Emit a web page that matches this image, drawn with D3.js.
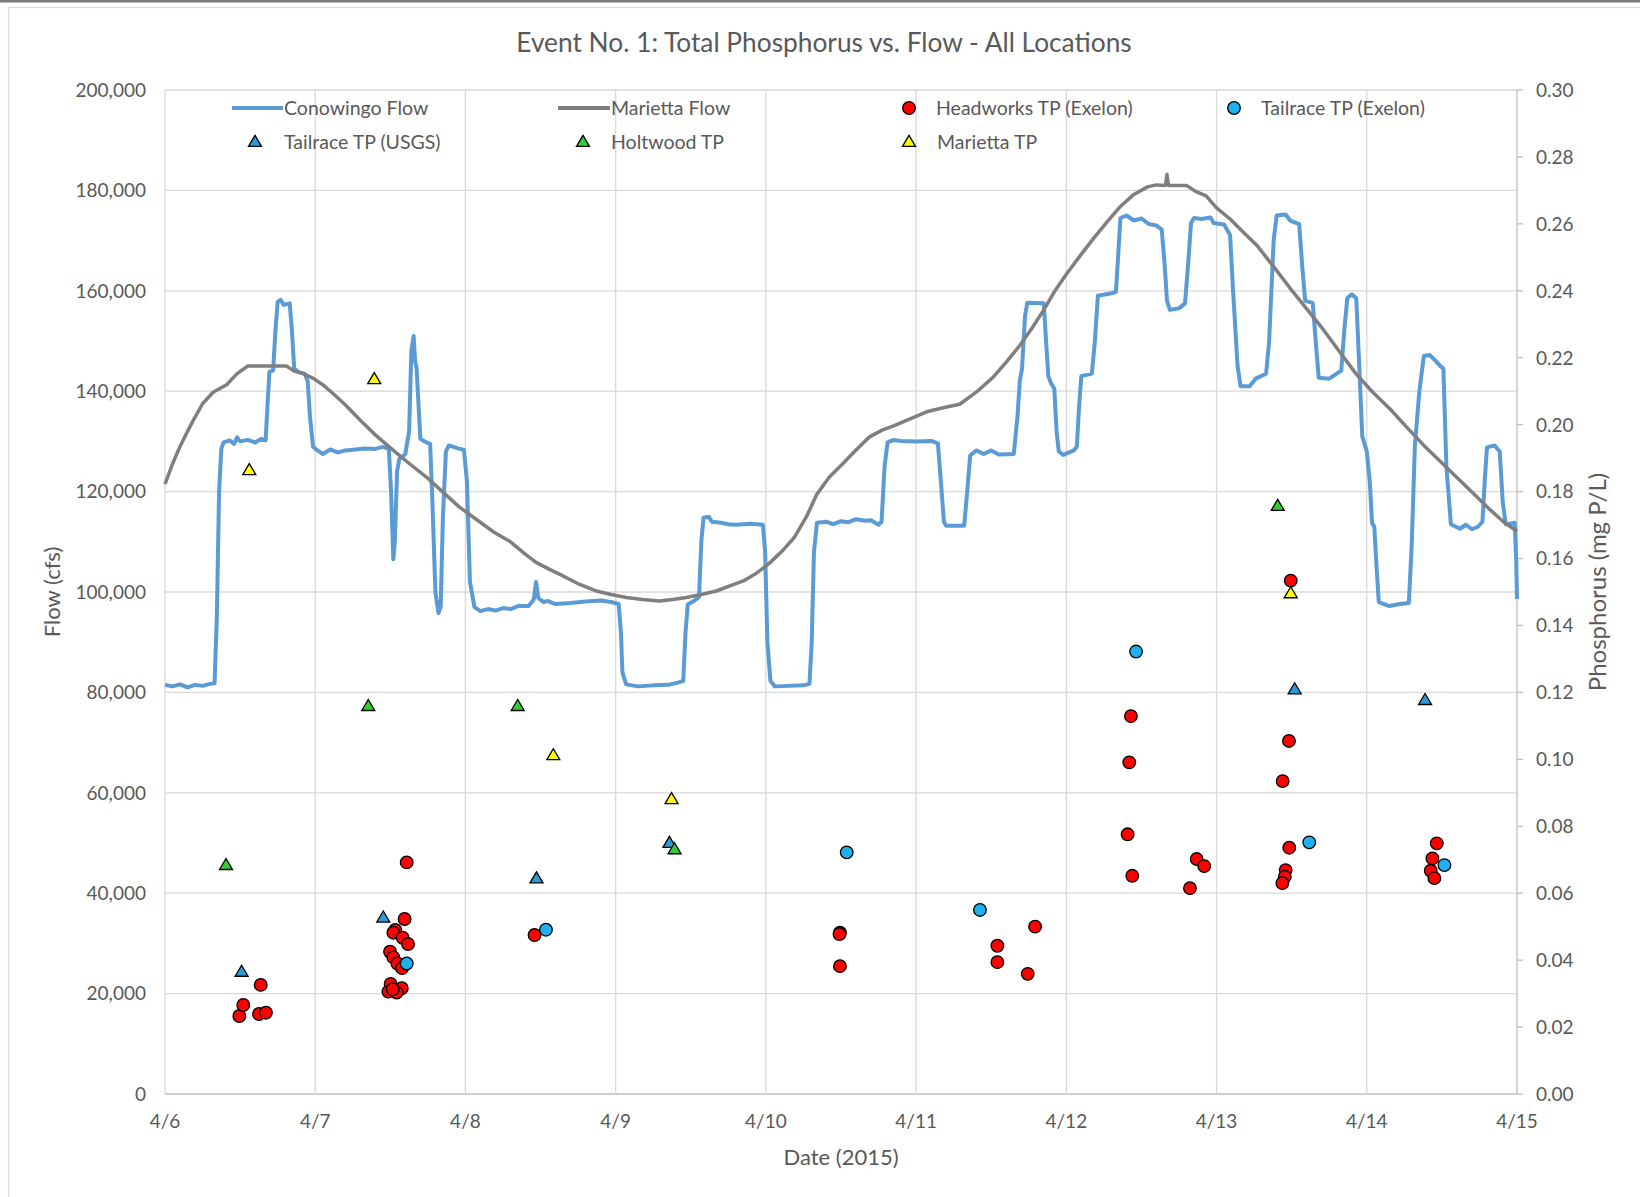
<!DOCTYPE html>
<html>
<head>
<meta charset="utf-8">
<script src="https://cdn.jsdelivr.net/npm/d3@7"></script>
<style>
  html, body { margin: 0; padding: 0; background: #fff; }
  svg { display: block; }
  text { font-family: Lato, "Open Sans", sans-serif; fill: #595959; }
</style>
</head>
<body>
<svg id="chart" width="1640" height="1197"></svg>
<script>
// ---------------- DATA ----------------
const chartTitle = "Event No. 1: Total Phosphorus vs. Flow - All Locations";
const xTickLabels = ["4/6","4/7","4/8","4/9","4/10","4/11","4/12","4/13","4/14","4/15"]; // day 0..9
const flowTicks = [0,20000,40000,60000,80000,100000,120000,140000,160000,180000,200000];
const phosTicks = [0,0.02,0.04,0.06,0.08,0.10,0.12,0.14,0.16,0.18,0.20,0.22,0.24,0.26,0.28,0.30];

// time = days since 4/6 00:00, flow in thousand cfs
const conowingoFlow = [
[0.00,81.5],[0.05,81.2],[0.10,81.6],[0.15,81.0],[0.20,81.5],[0.25,81.3],[0.30,81.7],[0.33,81.8],[0.345,95],[0.36,120],[0.375,128.5],[0.39,129.8],[0.43,130.2],[0.46,129.5],[0.48,130.8],[0.50,130],[0.55,130.3],[0.60,129.8],[0.64,130.5],[0.67,130.2],[0.68,136],[0.695,143.8],[0.72,144.2],[0.735,152],[0.75,157.8],[0.77,158.2],[0.79,157.2],[0.83,157.5],[0.845,152],[0.86,144.5],[0.89,143.8],[0.93,143.5],[0.95,142],[0.965,135],[0.985,129],[1.01,128.3],[1.05,127.5],[1.10,128.4],[1.15,127.8],[1.20,128.2],[1.27,128.4],[1.33,128.6],[1.40,128.5],[1.45,128.9],[1.49,128.5],[1.505,120],[1.52,106.5],[1.53,110],[1.545,124],[1.56,126.5],[1.60,127.5],[1.625,132],[1.64,148],[1.655,151],[1.665,146],[1.675,144.5],[1.69,136],[1.70,130.5],[1.74,129.8],[1.765,129.5],[1.78,118],[1.80,100],[1.82,95.8],[1.835,97],[1.85,115],[1.87,128],[1.89,129.2],[1.95,128.6],[1.99,128.3],[2.01,122],[2.03,102],[2.06,97],[2.10,96.2],[2.15,96.6],[2.20,96.3],[2.25,96.8],[2.30,96.6],[2.35,97.2],[2.42,97.2],[2.455,98.5],[2.47,102],[2.485,98.8],[2.52,98],[2.55,98.2],[2.60,97.6],[2.70,97.8],[2.80,98.1],[2.90,98.3],[2.97,98.0],[3.02,97.6],[3.035,92],[3.045,84],[3.07,81.6],[3.15,81.2],[3.25,81.4],[3.35,81.5],[3.42,82],[3.45,82.3],[3.465,92],[3.48,97.5],[3.52,98.2],[3.555,99],[3.57,110],[3.585,114.8],[3.62,115],[3.64,114],[3.70,113.8],[3.75,113.5],[3.80,113.4],[3.90,113.6],[3.98,113.4],[3.995,108],[4.01,90],[4.03,82.3],[4.06,81.2],[4.15,81.3],[4.25,81.4],[4.29,81.7],[4.305,90],[4.32,108],[4.34,113.8],[4.40,114],[4.45,113.5],[4.50,114.1],[4.55,113.9],[4.60,114.5],[4.66,114.2],[4.70,114.3],[4.75,113.4],[4.77,114],[4.79,125],[4.81,129.8],[4.85,130.3],[4.90,130.1],[5.00,130.0],[5.10,130.1],[5.145,129.6],[5.165,122],[5.185,114],[5.20,113.2],[5.32,113.2],[5.34,120],[5.36,127.2],[5.40,128.2],[5.45,127.5],[5.50,128.2],[5.55,127.4],[5.65,127.5],[5.675,135],[5.69,142],[5.705,144.5],[5.725,155],[5.74,157.6],[5.85,157.5],[5.865,150],[5.88,143],[5.90,141.5],[5.92,140.5],[5.935,132],[5.95,128],[5.98,127.3],[6.05,128.2],[6.07,129],[6.085,137],[6.10,143],[6.17,143.5],[6.19,150],[6.21,159],[6.30,159.5],[6.33,159.8],[6.345,167],[6.36,174.5],[6.40,175],[6.45,174],[6.50,174.4],[6.55,173.3],[6.60,173],[6.635,172.2],[6.655,165],[6.67,158],[6.69,156.2],[6.75,156.5],[6.79,157.5],[6.81,165],[6.83,173.5],[6.85,174.5],[6.90,174.3],[6.96,174.6],[6.98,173.5],[7.05,173.2],[7.09,171.1],[7.11,160],[7.14,145],[7.16,141],[7.22,141],[7.26,142.5],[7.33,143.5],[7.35,150],[7.38,170],[7.40,175],[7.46,175.2],[7.49,174],[7.55,173.3],[7.57,165],[7.59,158],[7.64,157.6],[7.66,150],[7.68,142.7],[7.75,142.5],[7.83,144.1],[7.85,152],[7.87,158.5],[7.90,159.3],[7.93,158.5],[7.95,145],[7.97,131],[8.0,128],[8.02,122],[8.035,113.8],[8.05,113],[8.065,105],[8.08,98],[8.15,97.2],[8.22,97.6],[8.28,97.8],[8.30,110],[8.32,129],[8.35,140],[8.38,147],[8.42,147.2],[8.46,146],[8.49,145],[8.51,144.5],[8.53,125],[8.56,113.5],[8.62,112.6],[8.66,113.4],[8.70,112.5],[8.74,113],[8.77,114],[8.785,122],[8.80,128.8],[8.85,129.2],[8.885,128],[8.905,118],[8.925,113.5],[8.95,113.6],[8.985,113.8],[8.995,106],[9.0,98.6]
];

const mariettaFlow = [
[0,121.5],[0.05,125.5],[0.1,129],[0.15,132],[0.19,134.3],[0.25,137.5],[0.32,139.8],[0.41,141.3],[0.48,143.5],[0.55,145],[0.65,145],[0.81,145],[0.86,144],[0.92,143.5],[0.99,142.5],[1.05,141.3],[1.12,139.5],[1.20,137.3],[1.30,134.2],[1.40,131.3],[1.52,128.2],[1.63,125.5],[1.74,122.9],[1.85,119.9],[1.96,116.9],[2.08,114.3],[2.19,111.9],[2.30,110],[2.40,107.5],[2.47,105.9],[2.56,104.5],[2.65,103.2],[2.76,101.5],[2.87,100.2],[2.97,99.5],[3.07,98.9],[3.18,98.5],[3.29,98.2],[3.38,98.5],[3.47,98.9],[3.57,99.5],[3.67,100.2],[3.76,101.2],[3.85,102.2],[3.94,103.8],[4.03,105.9],[4.11,108.2],[4.19,110.9],[4.27,115],[4.34,119.5],[4.42,122.8],[4.51,125.5],[4.60,128.3],[4.69,130.9],[4.77,132.2],[4.85,133.1],[4.96,134.5],[5.07,135.9],[5.18,136.7],[5.29,137.4],[5.40,139.8],[5.51,142.7],[5.60,145.8],[5.69,149.1],[5.77,152.5],[5.85,156.2],[5.92,159.8],[6.0,163.3],[6.09,166.9],[6.18,170.4],[6.27,173.7],[6.36,176.8],[6.45,179.2],[6.54,180.7],[6.60,181.1],[6.66,181],[6.67,183.2],[6.68,181],[6.80,181],[6.86,179.8],[6.93,178.9],[7.0,176.5],[7.09,174.3],[7.18,171.6],[7.27,169],[7.38,164.8],[7.49,160.5],[7.60,156.4],[7.71,152.3],[7.82,147.8],[7.93,143.4],[8.04,139.8],[8.16,136.3],[8.27,132.7],[8.38,129.2],[8.49,126],[8.60,122.8],[8.71,119.6],[8.82,116.4],[8.91,114],[9.0,112.1]
];

// [day, mg P/L]
const headworksTP = [
[0.495,0.0233],[0.521,0.0266],[0.626,0.0239],[0.637,0.0326],[0.672,0.0243],
[1.609,0.0692],[1.595,0.0523],[1.533,0.049],[1.52,0.0482],[1.582,0.0467],[1.618,0.0448],[1.498,0.0425],[1.52,0.0408],[1.547,0.039],[1.578,0.0376],[1.502,0.0329],[1.576,0.0316],[1.487,0.0306],[1.542,0.0303],[1.516,0.0313],
[2.46,0.0475],
[4.493,0.0482],[4.49,0.0478],[4.493,0.0382],
[5.792,0.05],[5.541,0.0443],[5.541,0.0394],[5.743,0.0359],
[6.43,0.1129],[6.419,0.0991],[6.408,0.0776],[6.439,0.0652],
[6.868,0.0702],[6.918,0.0681],[6.823,0.0615],
[7.494,0.1534],[7.482,0.1055],[7.44,0.0935],[7.484,0.0736],[7.46,0.0669],[7.454,0.0649],[7.438,0.063],
[8.466,0.0749],[8.437,0.0704],[8.426,0.0667],[8.45,0.0645]
];
const tailraceExelonTP = [[1.609,0.039],[2.536,0.0491],[4.538,0.0722],[5.425,0.055],[6.464,0.1322],[7.617,0.0752],[8.517,0.0684]];
const tailraceUSGSTP = [[0.51,0.0365],[1.453,0.0527],[2.473,0.0644],[3.358,0.075],[7.52,0.1209],[8.388,0.1177]];
const holtwoodTP = [[0.406,0.0684],[1.353,0.1159],[2.348,0.1159],[3.392,0.0731],[7.407,0.1757]];
const mariettaTP = [[0.561,0.1864],[1.393,0.2136],[2.585,0.1012],[3.372,0.0881],[7.494,0.1496]];

// ---------------- LAYOUT ----------------
const svg = d3.select("#chart");
const W = 1640, H = 1197;
const plot = {left:165, right:1517, top:90, bottom:1094};
const x = d3.scaleLinear().domain([0, 9]).range([plot.left, plot.right]);
const yFlow = d3.scaleLinear().domain([0, 200000]).range([plot.bottom, plot.top]);
const yP = d3.scaleLinear().domain([0, 0.30]).range([plot.bottom, plot.top]);

const C = {
  grid:"#d9d9d9", axis:"#bfbfbf", text:"#595959",
  cono:"#5b9bd5", mari:"#7f7f7f",
  red:"#ff0000", lblue:"#1fb0ef", tblue:"#2e9bd9", green:"#33cc33", yellow:"#ffff00"
};

// Frame
svg.append("rect").attr("x",0).attr("y",0).attr("width",W).attr("height",H).attr("fill","#fff");
svg.append("rect").attr("x",8.5).attr("y",7.5).attr("width",W).attr("height",H)
  .attr("fill","none").attr("stroke","#d9d9d9").attr("stroke-width",1.2);
svg.append("rect").attr("x",0).attr("y",0).attr("width",W).attr("height",2.5).attr("fill","#7a7a7a");

// Gridlines
const g = svg.append("g");
g.selectAll(".hg").data(flowTicks).join("line")
  .attr("x1",plot.left).attr("x2",plot.right)
  .attr("y1",d=>yFlow(d)).attr("y2",d=>yFlow(d))
  .attr("stroke",(d)=> d===0 ? C.axis : C.grid).attr("stroke-width",1.3);
g.selectAll(".vg").data(d3.range(0,10)).join("line")
  .attr("x1",d=>x(d)).attr("x2",d=>x(d))
  .attr("y1",plot.top).attr("y2",plot.bottom)
  .attr("stroke",(d)=> d===9 ? C.axis : C.grid).attr("stroke-width",1.3);

// Right axis ticks
g.selectAll(".rt").data(phosTicks).join("line")
  .attr("x1",plot.right).attr("x2",plot.right+6)
  .attr("y1",d=>yP(d)).attr("y2",d=>yP(d))
  .attr("stroke",C.axis).attr("stroke-width",1.3);

// Tick labels
const fmtFlow = d3.format(",");
svg.append("g").selectAll("text").data(flowTicks).join("text")
  .attr("x",146).attr("y",d=>yFlow(d)).attr("dy","0.36em")
  .attr("text-anchor","end").style("font-size","19px").text(d=>fmtFlow(d));
svg.append("g").selectAll("text").data(phosTicks).join("text")
  .attr("x",1536).attr("y",d=>yP(d)).attr("dy","0.36em")
  .attr("text-anchor","start").style("font-size","19px").text(d=>d3.format(".2f")(d));
svg.append("g").selectAll("text").data(xTickLabels).join("text")
  .attr("x",(d,i)=>x(i)).attr("y",1121).attr("dy","0.36em")
  .attr("text-anchor","middle").style("font-size","19px").text(d=>d);

// Axis titles
svg.append("text").attr("x",841).attr("y",1157).attr("dy","0.36em").attr("text-anchor","middle")
  .style("font-size","22px").text("Date (2015)");
svg.append("text").attr("transform","translate(52,592) rotate(-90)").attr("dy","0.36em").attr("text-anchor","middle")
  .style("font-size","22px").text("Flow (cfs)");
svg.append("text").attr("transform","translate(1597,582) rotate(-90)").attr("dy","0.36em").attr("text-anchor","middle")
  .style("font-size","24px").text("Phosphorus (mg P/L)");

// Title
svg.append("text").attr("x",824).attr("y",43).attr("dy","0.36em").attr("text-anchor","middle")
  .style("font-size","26.3px").text(chartTitle);

// Lines
const lineGen = d3.line().x(d=>x(d[0])).y(d=>yFlow(d[1]*1000));
svg.append("path").datum(conowingoFlow).attr("d",lineGen)
  .attr("fill","none").attr("stroke",C.cono).attr("stroke-width",4).attr("stroke-linejoin","round");
svg.append("path").datum(mariettaFlow).attr("d",lineGen)
  .attr("fill","none").attr("stroke",C.mari).attr("stroke-width",3.5).attr("stroke-linejoin","round");

// Markers
function triPath(cx, cy){
  const w = 13, h = 11;
  return `M${cx},${cy - h*0.6}L${cx + w/2},${cy + h*0.4}L${cx - w/2},${cy + h*0.4}Z`;
}
function circles(data, fill){
  svg.append("g").selectAll("circle").data(data).join("circle")
    .attr("cx",d=>x(d[0])).attr("cy",d=>yP(d[1])).attr("r",6.3)
    .attr("fill",fill).attr("stroke","#000").attr("stroke-width",1.3);
}
function triangles(data, fill){
  svg.append("g").selectAll("path").data(data).join("path")
    .attr("d",d=>triPath(x(d[0]), yP(d[1])))
    .attr("fill",fill).attr("stroke","#000").attr("stroke-width",1.3).attr("stroke-linejoin","miter");
}
circles(headworksTP, C.red);
circles(tailraceExelonTP, C.lblue);
triangles(tailraceUSGSTP, C.tblue);
triangles(holtwoodTP, C.green);
triangles(mariettaTP, C.yellow);

// Legend
const leg = svg.append("g");
const legFont = "19.5px";
function legText(xp, yp, t){
  leg.append("text").attr("x",xp).attr("y",yp).attr("dy","0.36em").style("font-size",legFont).text(t);
}
leg.append("line").attr("x1",232).attr("x2",283).attr("y1",108).attr("y2",108).attr("stroke",C.cono).attr("stroke-width",4);
legText(284,108,"Conowingo Flow");
leg.append("line").attr("x1",558).attr("x2",610).attr("y1",108).attr("y2",108).attr("stroke",C.mari).attr("stroke-width",4);
legText(611,108,"Marietta Flow");
leg.append("circle").attr("cx",909).attr("cy",108).attr("r",6.3).attr("fill",C.red).attr("stroke","#000").attr("stroke-width",1.3);
legText(936,108,"Headworks TP (Exelon)");
leg.append("circle").attr("cx",1234).attr("cy",108).attr("r",6.3).attr("fill",C.lblue).attr("stroke","#000").attr("stroke-width",1.3);
legText(1261,108,"Tailrace TP (Exelon)");
leg.append("path").attr("d",triPath(255,142)).attr("fill",C.tblue).attr("stroke","#000").attr("stroke-width",1.3);
legText(284,142,"Tailrace TP (USGS)");
leg.append("path").attr("d",triPath(583,142)).attr("fill",C.green).attr("stroke","#000").attr("stroke-width",1.3);
legText(611,142,"Holtwood TP");
leg.append("path").attr("d",triPath(909,142)).attr("fill",C.yellow).attr("stroke","#000").attr("stroke-width",1.3);
legText(937,142,"Marietta TP");
</script>
</body>
</html>
